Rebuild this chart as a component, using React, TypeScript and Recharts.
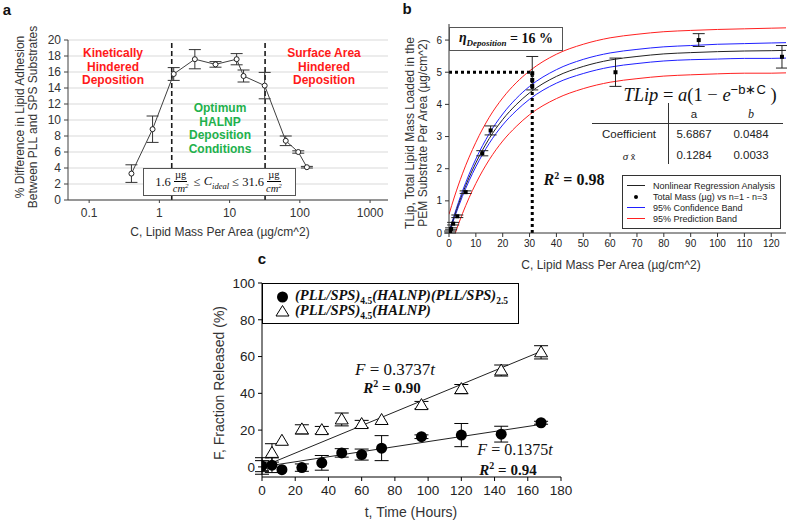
import React from 'react';
import { ComposedChart, Line, Scatter, XAxis, YAxis, CartesianGrid, ErrorBar, ReferenceLine } from 'recharts';

const SANS = '"Liberation Sans", Arial, Helvetica, sans-serif';
const SERIF = '"Liberation Serif", "Times New Roman", serif';

// ---------- Panel a ----------
const aConc = [0.4, 0.8, 1.6, 3.2, 6.3, 12.6, 15.8, 31.6, 63, 95, 126];
const aDiff = [3.3, 8.85, 15.75, 17.6, 16.95, 17.6, 15.5, 14.3, 7.4, 6.0, 4.1];
const aErr = [1.1, 1.65, 0.8, 1.2, 0.35, 0.7, 0.75, 1.65, 0.6, 0.15, 0.1];
const aXTicks = [0.1, 1, 10, 100, 1000];
const aYTicks = [0, 2, 4, 6, 8, 10, 12, 14, 16, 18, 20];
const aBounds = [1.5, 32];

// ---------- Panel b ----------
const bConc = [0.39, 0.78, 1.55, 3.1, 6.2, 12.4, 15.5, 31, 31, 31, 62, 93, 124];
const bMass = [0.03, 0.13, 0.29, 0.52, 1.27, 2.48, 3.19, 4.97, 4.76, 4.57, 5.0, 6.0, 5.48];
const bErr = [0.03, 0.03, 0.04, 0.04, 0.04, 0.08, 0.14, 0.52, 0, 0, 0.44, 0.2, 0.35];
const bCurveX = [0, 2, 5, 10, 15, 20, 25, 30, 40, 50, 60, 70, 80, 90, 100, 110, 120, 125.5];
const bFit = [0, 0.52, 1.22, 2.18, 2.94, 3.53, 3.99, 4.36, 4.87, 5.18, 5.38, 5.49, 5.57, 5.61, 5.64, 5.66, 5.67, 5.68];
const bConfHi = [0.02, 0.57, 1.3, 2.3, 3.09, 3.7, 4.18, 4.56, 5.08, 5.4, 5.6, 5.71, 5.79, 5.83, 5.87, 5.89, 5.91, 5.92];
const bConfLo = [-0.02, 0.47, 1.14, 2.06, 2.79, 3.36, 3.8, 4.16, 4.66, 4.96, 5.16, 5.27, 5.35, 5.39, 5.41, 5.43, 5.43, 5.44];
const bPredHi = [0.58, 1.12, 1.84, 2.82, 3.6, 4.2, 4.67, 5.04, 5.56, 5.87, 6.07, 6.18, 6.26, 6.3, 6.33, 6.35, 6.37, 6.38];
const bPredLo = [-0.58, -0.08, 0.6, 1.54, 2.28, 2.86, 3.31, 3.68, 4.18, 4.49, 4.69, 4.8, 4.88, 4.92, 4.95, 4.97, 4.97, 4.98];
const bXTicks = [0, 10, 20, 30, 40, 50, 60, 70, 80, 90, 100, 110, 120];
const bYTicks = [0, 1, 2, 3, 4, 5, 6];
const bTarget = { conc: 31, mass: 5 };

// ---------- Panel c ----------
const cTime = [0, 6, 12, 24, 36, 48, 60, 72, 96, 120, 144, 168];
const cCoated = [0.5, 0.9, -1.5, -0.4, 2.2, 7.6, 6.7, 10.2, 16.4, 17.3, 17.8, 24.0];
const cCoatedErr = [4.5, 4, 0, 2, 4, 2.3, 3, 6.8, 1, 6.3, 4.3, 0.8];
const cUncoated = [0.4, 7.6, 14.2, 20.4, 20.0, 25.8, 23.3, 25.5, 33.6, 42.3, 52.4, 62.3];
const cUncoatedErr = [3, 5, 0, 2.5, 2, 3.5, 2, 0, 2, 2.5, 3, 3.6];
const cFitX = [5, 168];
const cFitCoated = [0.7, 23.1];
const cFitUncoated = [1.9, 62.8];
const cXTicks = [0, 20, 40, 60, 80, 100, 120, 140, 160, 180];
const cYTicks = [0, 20, 40, 60, 80, 100];

const aData = aConc.map((x, i) => ({ x, y: aDiff[i], err: aErr[i] }));
const bPts = bConc.map((x, i) => ({ x, y: bMass[i], err: bErr[i] }));
const mk = (ys: number[]) => bCurveX.map((x, i) => ({ x, y: ys[i] }));
const cCoatedData = cTime.map((x, i) => ({ x, y: cCoated[i], err: cCoatedErr[i] }));
const cUncoatedData = cTime.map((x, i) => ({ x, y: cUncoated[i], err: cUncoatedErr[i] }));
const cFitC = cFitX.map((x, i) => ({ x, y: cFitCoated[i] }));
const cFitU = cFitX.map((x, i) => ({ x, y: cFitUncoated[i] }));

const Txt = ({ x, y, children, style, rot }: any) => (
  <div
    style={{
      position: 'absolute', left: x, top: y,
      transform: `translate(-50%, -50%)${rot ? ' rotate(-90deg)' : ''}`,
      whiteSpace: 'nowrap', textAlign: 'center', ...style,
    }}
  >
    {children}
  </div>
);

const Frac = ({ n, d, size }: any) => (
  <span style={{ display: 'inline-flex', flexDirection: 'column', alignItems: 'center', verticalAlign: 'middle', fontSize: size, lineHeight: 1, margin: '0 2px' }}>
    <span style={{ borderBottom: '1px solid #000', padding: '0 1px 1px' }}>{n}</span>
    <span style={{ fontStyle: 'italic' }}>{d}</span>
  </span>
);

const Circle = (p: any) => <circle cx={p.cx} cy={p.cy} r={5.5} fill="#000" />;
const Tri = (p: any) => (
  <polygon points={`${p.cx},${p.cy - 6.5} ${p.cx + 6.5},${p.cy + 4.5} ${p.cx - 6.5},${p.cy + 4.5}`} fill="#fff" stroke="#000" strokeWidth={1} />
);
const Sq = (p: any) => <rect x={p.cx - 2} y={p.cy - 2} width={4} height={4} fill="#000" />;

const supS = { fontSize: 10, lineHeight: 0 };

export default function App() {
  const gray = '#404040';
  return (
    <div style={{ position: 'absolute', left: 0, top: 0, width: 787, height: 522, background: '#fff', fontFamily: SANS, overflow: 'hidden' }}>
      {/* Panel a */}
      <div style={{ position: 'absolute', left: 0, top: 0 }}>
        <ComposedChart width={400} height={250} margin={{ top: 40, right: 12, bottom: 20, left: 38 }}>
          <CartesianGrid vertical={false} stroke="#d9d9d9" />
          <XAxis xAxisId="top" orientation="top" type="number" domain={[0, 1]} height={0} tick={false} tickLine={false} axisLine={{ stroke: '#cfcfcf' }} />
          <YAxis yAxisId="right" orientation="right" type="number" domain={[0, 1]} width={0} tick={false} tickLine={false} axisLine={{ stroke: '#cfcfcf' }} />
          <XAxis type="number" dataKey="x" scale="log" domain={[0.05, 1800]} allowDataOverflow ticks={aXTicks} interval={0}
            tickFormatter={(v: number) => String(v)} height={30} tickSize={3} tickMargin={5}
            axisLine={{ stroke: gray }} tickLine={{ stroke: gray }} tick={{ fontSize: 12, fill: '#333' }} />
          <YAxis type="number" dataKey="y" domain={[0, 20]} ticks={aYTicks} interval={0} width={30} tickSize={4} tickMargin={3}
            axisLine={{ stroke: gray }} tickLine={{ stroke: gray }} tick={{ fontSize: 12, fill: '#333' }} />
          {aBounds.map((b) => (
            <ReferenceLine key={b} x={b} stroke="#1a1a1a" strokeWidth={1.6} strokeDasharray="5 3" />
          ))}
          <Line data={aData} dataKey="y" type="linear" stroke={gray} strokeWidth={1} isAnimationActive={false}
            dot={{ r: 2.5, fill: '#fff', stroke: '#222', strokeWidth: 1 }}>
            <ErrorBar dataKey="err" width={6} stroke="#333" strokeWidth={1} direction="y" />
          </Line>
        </ComposedChart>
      </div>

      {/* Panel b */}
      <div style={{ position: 'absolute', left: 390, top: 0 }}>
        <ComposedChart width={397} height={275} margin={{ top: 24, right: 1, bottom: 20, left: 39 }}>
          <XAxis xAxisId="top" orientation="top" type="number" domain={[0, 1]} height={0} tick={false} tickLine={false} axisLine={{ stroke: '#333' }} />
          <YAxis yAxisId="right" orientation="right" type="number" domain={[0, 1]} width={0} tick={false} tickLine={false} axisLine={{ stroke: '#333' }} />
          <XAxis type="number" dataKey="x" domain={[0, 125.5]} allowDataOverflow ticks={bXTicks} interval={0} height={22} tickSize={4} tickMargin={3}
            axisLine={{ stroke: '#333' }} tickLine={{ stroke: '#333' }} tick={{ fontSize: 10, fill: '#222' }} />
          <YAxis type="number" dataKey="y" domain={[0, 6.5]} allowDataOverflow ticks={bYTicks} interval={0} width={20} tickSize={4} tickMargin={3}
            axisLine={{ stroke: '#333' }} tickLine={{ stroke: '#333' }} tick={{ fontSize: 10, fill: '#222' }} />
          <Line data={mk(bPredHi)} dataKey="y" type="monotone" stroke="#ff2020" strokeWidth={1} dot={false} isAnimationActive={false} />
          <Line data={mk(bPredLo)} dataKey="y" type="monotone" stroke="#ff2020" strokeWidth={1} dot={false} isAnimationActive={false} />
          <Line data={mk(bConfHi)} dataKey="y" type="monotone" stroke="#1f1fff" strokeWidth={1} dot={false} isAnimationActive={false} />
          <Line data={mk(bConfLo)} dataKey="y" type="monotone" stroke="#1f1fff" strokeWidth={1} dot={false} isAnimationActive={false} />
          <Line data={mk(bFit)} dataKey="y" type="monotone" stroke="#222" strokeWidth={1} dot={false} isAnimationActive={false} />
          <ReferenceLine segment={[{ x: 0, y: bTarget.mass }, { x: bTarget.conc, y: bTarget.mass }]} stroke="#000" strokeWidth={3} strokeDasharray="3 3" />
          <ReferenceLine segment={[{ x: bTarget.conc, y: 0 }, { x: bTarget.conc, y: bTarget.mass }]} stroke="#000" strokeWidth={3} strokeDasharray="3 3" />
          <Scatter data={bPts} dataKey="y" shape={Sq} isAnimationActive={false}>
            <ErrorBar dataKey="err" width={6} stroke="#222" strokeWidth={1} direction="y" />
          </Scatter>
        </ComposedChart>
      </div>

      {/* Panel c */}
      <div style={{ position: 'absolute', left: 180, top: 270 }}>
        <ComposedChart width={400} height={252} margin={{ top: 13, right: 19, bottom: 20, left: 52 }}>
          <XAxis xAxisId="top" orientation="top" type="number" domain={[0, 1]} height={0} tick={false} tickLine={false} axisLine={{ stroke: '#000' }} />
          <YAxis yAxisId="right" orientation="right" type="number" domain={[0, 1]} width={0} tick={false} tickLine={false} axisLine={{ stroke: '#000' }} />
          <XAxis type="number" dataKey="x" domain={[0, 180]} allowDataOverflow ticks={cXTicks} interval={0} height={25} tickSize={4} tickMargin={4}
            axisLine={{ stroke: '#000' }} tickLine={{ stroke: '#000' }} tick={{ fontSize: 13.5, fill: '#222' }} />
          <YAxis type="number" dataKey="y" domain={[-5.5, 100]} allowDataOverflow ticks={cYTicks} interval={0} width={30} tickSize={4} tickMargin={3}
            axisLine={{ stroke: '#000' }} tickLine={{ stroke: '#000' }} tick={{ fontSize: 13.5, fill: '#222' }} />
          <Line data={cFitU} dataKey="y" type="linear" stroke="#222" strokeWidth={1} dot={false} isAnimationActive={false} />
          <Line data={cFitC} dataKey="y" type="linear" stroke="#222" strokeWidth={1} dot={false} isAnimationActive={false} />
          <Scatter data={cUncoatedData} dataKey="y" shape={Tri} isAnimationActive={false}>
            <ErrorBar dataKey="err" width={7} stroke="#000" strokeWidth={1} direction="y" />
          </Scatter>
          <Scatter data={cCoatedData} dataKey="y" shape={Circle} isAnimationActive={false}>
            <ErrorBar dataKey="err" width={7} stroke="#000" strokeWidth={1} direction="y" />
          </Scatter>
        </ComposedChart>
      </div>

      {/* ---------- Overlays: panel a ---------- */}
      <Txt x={7} y={9} style={{ fontWeight: 'bold', fontSize: 15, color: '#111' }}>a</Txt>
      <Txt x={26.5} y={117} rot style={{ fontSize: 12, lineHeight: '13px', color: '#333' }}>
        % Difference in Lipid Adhesion<br />Between PLL and SPS Substrates
      </Txt>
      <Txt x={220} y={232} style={{ fontSize: 12, color: '#333' }}>C, Lipid Mass Per Area (µg/cm^2)</Txt>
      <Txt x={113} y={68} style={{ fontSize: 12, fontWeight: 'bold', lineHeight: '13.7px', color: '#ff1a1a' }}>
        Kinetically<br />Hindered<br />Deposition
      </Txt>
      <Txt x={324} y={68} style={{ fontSize: 12, fontWeight: 'bold', lineHeight: '13.7px', color: '#ff1a1a' }}>
        Surface Area<br />Hindered<br />Deposition
      </Txt>
      <Txt x={220} y={129} style={{ fontSize: 12, fontWeight: 'bold', lineHeight: '13.7px', color: '#22b14c' }}>
        Optimum<br />HALNP<br />Deposition<br />Conditions
      </Txt>
      <div style={{ position: 'absolute', left: 143, top: 168, width: 151, height: 26, border: '1px solid #555', background: '#fff',
        display: 'flex', alignItems: 'center', justifyContent: 'center', fontFamily: SERIF, fontSize: 12.5, color: '#111', whiteSpace: 'nowrap' }}>
        <span>1.6</span><Frac n="µg" d={<span>cm<sup style={{ fontSize: 7 }}>2</sup></span>} size={10.5} />
        <span>&nbsp;≤&nbsp;</span><span style={{ fontStyle: 'italic' }}>C<sub style={{ fontSize: 8.5 }}>ideal</sub></span>
        <span>&nbsp;≤ 31.6</span><Frac n="µg" d={<span>cm<sup style={{ fontSize: 7 }}>2</sup></span>} size={10.5} />
      </div>

      {/* ---------- Overlays: panel b ---------- */}
      <Txt x={407} y={8} style={{ fontWeight: 'bold', fontSize: 15, color: '#111' }}>b</Txt>
      <Txt x={416.5} y={133} rot style={{ fontSize: 12, lineHeight: '13px', color: '#333' }}>
        TLip, Total Lipid Mass Loaded in the<br />PEM Substrate Per Area (µg/cm^2)
      </Txt>
      <Txt x={611} y={265} style={{ fontSize: 12, color: '#333' }}>C, Lipid Mass Per Area (µg/cm^2)</Txt>
      <div style={{ position: 'absolute', left: 449, top: 27, width: 112, height: 22, border: '1px solid #555', background: '#fff',
        display: 'flex', alignItems: 'center', justifyContent: 'center', fontFamily: SERIF, fontWeight: 'bold', fontSize: 14, color: '#111', whiteSpace: 'nowrap' }}>
        <span style={{ fontStyle: 'italic' }}>η<sub style={{ fontSize: 9 }}>Deposition</sub></span>
        <span>&nbsp;= 16 %</span>
      </div>
      <Txt x={700} y={95} style={{ fontFamily: SERIF, fontSize: 18.5, lineHeight: 1, fontStyle: 'italic', color: '#111' }}>
        TLip <span style={{ fontStyle: 'normal' }}>=</span> a<span style={{ fontStyle: 'normal' }}>(1 − </span>e
        <sup style={{ fontStyle: 'normal', fontFamily: SANS, fontSize: 13, lineHeight: 0 }}>−b∗C</sup>
        <span style={{ fontStyle: 'normal' }}> )</span>
      </Txt>
      <div style={{ position: 'absolute', left: 592, top: 123, width: 191, height: 0, borderTop: '1px solid #333' }} />
      <div style={{ position: 'absolute', left: 668, top: 103, width: 0, height: 61, borderLeft: '1px solid #333' }} />
      <Txt x={694} y={114} style={{ fontSize: 11.5, color: '#222' }}>a</Txt>
      <Txt x={751} y={114} style={{ fontSize: 12, fontFamily: SERIF, fontStyle: 'italic', color: '#222' }}>b</Txt>
      <Txt x={629} y={134} style={{ fontSize: 11.5, color: '#222' }}>Coefficient</Txt>
      <Txt x={694} y={134} style={{ fontSize: 11.5, color: '#222' }}>5.6867</Txt>
      <Txt x={751} y={134} style={{ fontSize: 11.5, color: '#222' }}>0.0484</Txt>
      <Txt x={629} y={156} style={{ fontSize: 11, fontFamily: SERIF, fontStyle: 'italic', color: '#222' }}>σ <span style={{ fontStyle: 'normal', fontFamily: SANS, fontSize: 9 }}>x̄</span></Txt>
      <Txt x={694} y={155} style={{ fontSize: 11.5, color: '#222' }}>0.1284</Txt>
      <Txt x={751} y={155} style={{ fontSize: 11.5, color: '#222' }}>0.0033</Txt>
      <Txt x={574} y={180} style={{ fontFamily: SERIF, fontWeight: 'bold', fontSize: 16, lineHeight: 1, color: '#111' }}>
        <span style={{ fontStyle: 'italic' }}>R</span><sup style={supS}>2</sup> = 0.98
      </Txt>
      <div style={{ position: 'absolute', left: 622, top: 175, width: 157, height: 52, border: '1px solid #333', background: '#fff', fontSize: 9, color: '#222' }}>
        {[
          { c: '#222', t: 'Nonlinear Regression Analysis', dot: false },
          { c: '#000', t: 'Total Mass (µg) vs n=1 - n=3', dot: true },
          { c: '#1f1fff', t: '95% Confidence Band', dot: false },
          { c: '#ff2020', t: '95% Prediction Band', dot: false },
        ].map((e, i) => (
          <div key={i} style={{ position: 'absolute', left: 4, top: 4 + i * 11, height: 11, display: 'flex', alignItems: 'center', whiteSpace: 'nowrap' }}>
            <span style={{ width: 18, height: 11, position: 'relative', display: 'inline-block' }}>
              {e.dot ? (
                <span style={{ position: 'absolute', left: 7, top: 4, width: 4, height: 4, background: '#000', borderRadius: 2 }} />
              ) : (
                <span style={{ position: 'absolute', left: 0, top: 5, width: 18, height: 1, background: e.c }} />
              )}
            </span>
            <span style={{ marginLeft: 8 }}>{e.t}</span>
          </div>
        ))}
      </div>

      {/* ---------- Overlays: panel c ---------- */}
      <Txt x={262} y={258} style={{ fontWeight: 'bold', fontSize: 15, color: '#111' }}>c</Txt>
      <Txt x={219} y={383} rot style={{ fontSize: 14, color: '#333' }}>F, Fraction Released (%)</Txt>
      <Txt x={411} y={512} style={{ fontSize: 14, color: '#333' }}>t, Time (Hours)</Txt>
      <div style={{ position: 'absolute', left: 262, top: 283, width: 255, height: 39, border: '1px solid #000', background: '#fff' }}>
        <svg width={20} height={39} style={{ position: 'absolute', left: 12, top: 0 }}>
          <circle cx={7.5} cy={13} r={5.5} fill="#000" />
          <polygon points="7.5,21.5 14,32 1,32" fill="#fff" stroke="#000" strokeWidth={1} />
        </svg>
        <div style={{ position: 'absolute', left: 32, top: 4, fontFamily: SERIF, fontStyle: 'italic', fontWeight: 'bold', fontSize: 14.5, lineHeight: '15px', color: '#111', whiteSpace: 'nowrap' }}>
          (PLL/SPS)<sub style={{ fontStyle: 'normal', fontSize: 9.5 }}>4.5</sub>(HALNP)(PLL/SPS)<sub style={{ fontStyle: 'normal', fontSize: 9.5 }}>2.5</sub>
        </div>
        <div style={{ position: 'absolute', left: 32, top: 19, fontFamily: SERIF, fontStyle: 'italic', fontWeight: 'bold', fontSize: 14.5, lineHeight: '15px', color: '#111', whiteSpace: 'nowrap' }}>
          (PLL/SPS)<sub style={{ fontStyle: 'normal', fontSize: 9.5 }}>4.5</sub>(HALNP)
        </div>
      </div>
      <Txt x={395} y={369} style={{ fontFamily: SERIF, fontSize: 17, lineHeight: 1, color: '#111' }}>
        <i>F</i> = 0.3737<i>t</i>
      </Txt>
      <Txt x={392} y={388} style={{ fontFamily: SERIF, fontWeight: 'bold', fontSize: 15, lineHeight: 1, color: '#111' }}>
        <i>R</i><sup style={supS}>2</sup> = 0.90
      </Txt>
      <Txt x={515} y={450} style={{ fontFamily: SERIF, fontSize: 16, lineHeight: 1, color: '#111' }}>
        <i>F</i> = 0.1375<i>t</i>
      </Txt>
      <Txt x={508} y={469.5} style={{ fontFamily: SERIF, fontWeight: 'bold', fontSize: 15, lineHeight: 1, color: '#111' }}>
        <i>R</i><sup style={supS}>2</sup> = 0.94
      </Txt>
    </div>
  );
}
